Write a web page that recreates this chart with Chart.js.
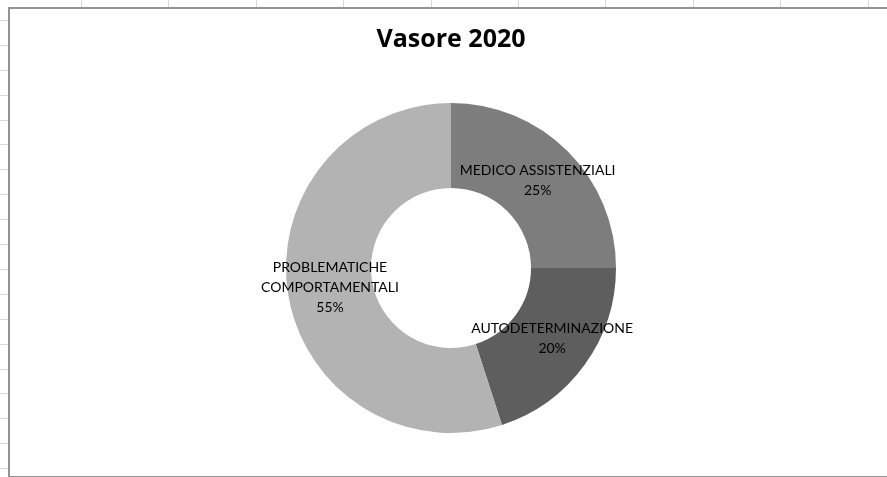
<!DOCTYPE html>
<html lang="it">
<head>
<meta charset="UTF-8">
<title>Vasore 2020</title>
<script src="https://cdn.jsdelivr.net/npm/chart.js@4/dist/chart.umd.min.js"></script>
<style>
  html, body {
    margin: 0;
    padding: 0;
    width: 887px;
    height: 477px;
    overflow: hidden;
    background: #fff;
  }
  /* spreadsheet cells peeking out around the chart */
  .sheet {
    position: absolute;
    left: 0;
    top: 0;
    width: 887px;
    height: 477px;
    background-image:
      repeating-linear-gradient(to right, transparent 0 81px, #d6d6d6 81px 82px, transparent 82px 87.4px),
      repeating-linear-gradient(to bottom, transparent 0 20px, #d6d6d6 20px 21px, transparent 21px 24.9px);
    background-size: 887px 8px, 8px 477px;
    background-repeat: no-repeat;
  }
  .box {
    position: absolute;
    left: 8px;
    top: 7px;
    width: 900px;
    height: 467px;
    border: 2px solid #939393;
    background: #fff;
  }
  #chart {
    position: absolute;
    left: 0;
    top: 0;
  }
</style>
</head>
<body>
<div class="sheet"></div>
<div class="box"></div>
<canvas id="chart" width="887" height="477"></canvas>
<script>
  var titolo = 'Vasore 2020';
  var categorie = ['MEDICO ASSISTENZIALI', 'AUTODETERMINAZIONE', 'PROBLEMATICHE COMPORTAMENTALI'];
  var percentuali = [25, 20, 55];

  var colori = ['#7d7d7d', '#5e5e5e', '#b3b3b3'];
  // nudges for each slice label, in px from the ring centre line
  var spostamenti = [[0, -1], [2, -2], [0, 0]];

  // splits a label in lines no wider than maxW
  function aCapo(ctx, testo, maxW) {
    var parole = testo.split(' ');
    var righe = [];
    var riga = '';
    parole.forEach(function (p) {
      var prova = riga ? riga + ' ' + p : p;
      if (riga && ctx.measureText(prova).width > maxW) {
        righe.push(riga);
        riga = p;
      } else {
        riga = prova;
      }
    });
    if (riga) righe.push(riga);
    return righe;
  }

  var etichette = {
    id: 'etichette',
    afterDatasetsDraw: function (chart) {
      var ctx = chart.ctx;
      var meta = chart.getDatasetMeta(0);
      ctx.save();
      ctx.font = '14px Lato, "Liberation Sans", sans-serif';
      ctx.fillStyle = '#000';
      ctx.textAlign = 'center';
      ctx.textBaseline = 'middle';
      var lh = 20;
      meta.data.forEach(function (arc, i) {
        var p = arc.getProps(['x', 'y', 'startAngle', 'endAngle', 'innerRadius', 'outerRadius'], true);
        var a = (p.startAngle + p.endAngle) / 2;
        var r = (p.innerRadius + p.outerRadius) / 2;
        var cx = p.x + Math.cos(a) * r + spostamenti[i][0];
        var cy = p.y + Math.sin(a) * r + spostamenti[i][1];
        var righe = aCapo(ctx, chart.data.labels[i], 170);
        righe.push(chart.data.datasets[0].data[i] + '%');
        var y0 = cy - (righe.length - 1) * lh / 2;
        righe.forEach(function (t, k) {
          ctx.fillText(t, cx, y0 + k * lh);
        });
      });
      ctx.restore();
    }
  };

  new Chart(document.getElementById('chart'), {
    type: 'doughnut',
    data: {
      labels: categorie,
      datasets: [{
        data: percentuali,
        backgroundColor: colori,
        borderWidth: 0
      }]
    },
    options: {
      responsive: false,
      animation: false,
      cutout: '48.5%',
      layout: {
        padding: { left: 286, right: 271, top: 0, bottom: 44 }
      },
      plugins: {
        legend: { display: false },
        tooltip: { enabled: false },
        title: {
          display: true,
          text: titolo,
          color: '#000',
          font: { family: '"Open Sans", "Liberation Sans", sans-serif', size: 25, weight: 'bold', lineHeight: 1.2 },
          padding: { top: 25, bottom: 48 }
        }
      }
    },
    plugins: [etichette]
  });
</script>
</body>
</html>
